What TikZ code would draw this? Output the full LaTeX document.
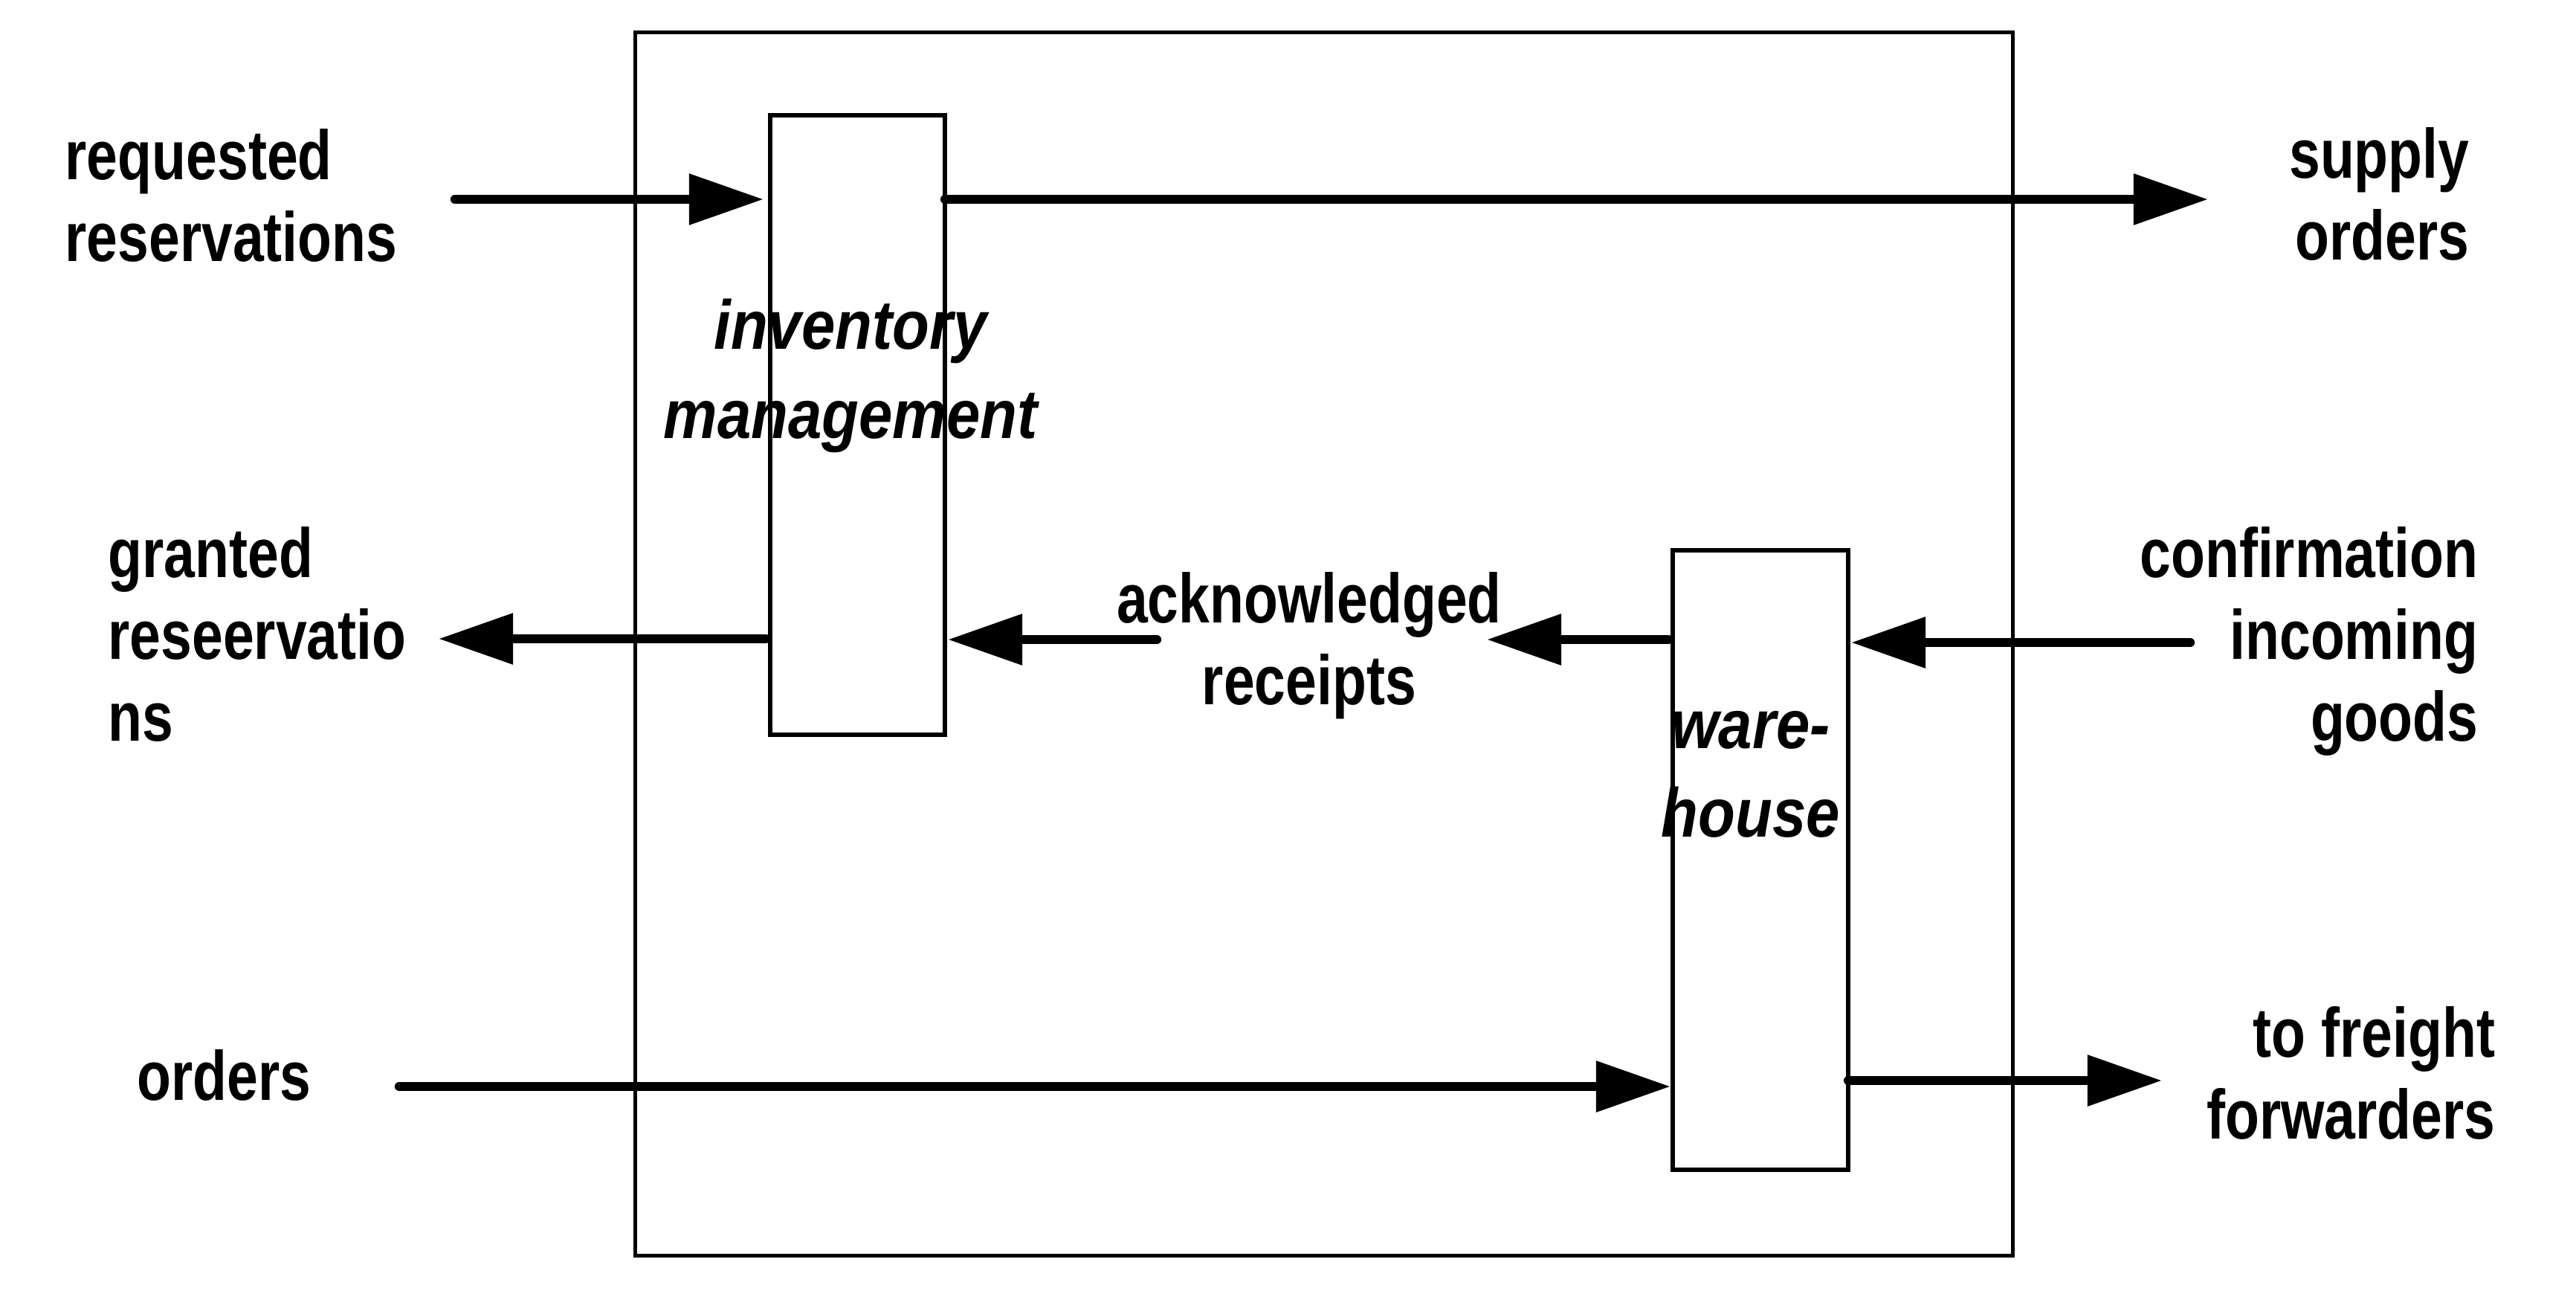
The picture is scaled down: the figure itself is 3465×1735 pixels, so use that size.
\documentclass[tikz,border=0pt]{standalone}
\usepackage{fontspec}
\newfontfamily\labfont{Liberation Sans}[FakeStretch=0.80]
\newfontfamily\boxfont{Liberation Sans}[FakeStretch=0.875]
\usetikzlibrary{arrows.meta}
\newcommand\ls{\rule[-0.21em]{0pt}{0.75em}}
\begin{document}
\begin{tikzpicture}[x=0.01cm,y=-0.01cm,
  blk/.style={draw, line width=1.6pt, inner sep=0pt, outer sep=0pt, fill=none},
  flow/.style={line width=3.5pt, line cap=round, -{Triangle[length=1cm,width=0.66cm]}},
  lab/.style={inner sep=0pt, font=\labfont\bfseries\fontsize{26.7pt}{31.3pt}\selectfont},
  ital/.style={inner sep=0pt, align=center, font=\boxfont\bfseries\itshape\fontsize{26.5pt}{34.1pt}\selectfont}]
\useasboundingbox (0,0) rectangle (3465,1735);
\fill[white] (0,0) rectangle (3465,1735);

% boxes
\node[blk, minimum width=18.52cm, minimum height=16.44cm] (sys) at (1781,866) {};
\node[blk, minimum width=2.35cm, minimum height=8.33cm] (inv) at (1153.5,571.5) {};
\node[blk, minimum width=2.36cm, minimum height=8.33cm] (wh) at (2368,1156.5) {};

% box labels
\node[ital, anchor=north] (invlab) at (1144,401) {\ls inventory\\\ls management};
\node[ital, anchor=north] (whlab) at (2355,955) {\ls ware-\\\ls house};

% outer labels
\node[lab, align=left, anchor=north west] (reqlab) at (87,173) {\ls requested\\\ls reservations};
\node[lab, align=right, anchor=north east] (suplab) at (3322,171) {\ls supply\\\ls orders};
\node[lab, align=left, anchor=north west] (grantlab) at (145,708) {\ls granted\\\ls reseervatio\\\ls ns};
\node[lab, align=center, anchor=north] (acklab) at (1761,769) {\ls acknowledged\\\ls receipts};
\node[lab, align=right, anchor=north east] (conflab) at (3334,708) {\ls confirmation\\\ls incoming\\\ls goods};
\node[lab, align=right, anchor=north east] (frlab) at (3357,1353) {\ls to freight\\\ls forwarders};
\node[lab, align=left, anchor=north west] (ordlab) at (184,1411) {\ls orders};

% connector free ends
\coordinate (reqs) at (612,268);
\coordinate (supe) at (2970,268);
\coordinate (grante) at (590,859);
\coordinate (acks) at (1556,860);
\coordinate (acke) at (2000,860);
\coordinate (confs) at (2946,864);
\coordinate (ords) at (537,1461);
\coordinate (fre) at (2908,1453);

% connectors
\draw[flow, shorten >=0.09cm] (reqs) -- (reqs -| inv.west);
\draw[flow] (supe -| inv.east) -- (supe);
\draw[flow, shorten <=0.06cm] (grante -| inv.west) -- (grante);
\draw[flow, shorten >=0.04cm] (acks) -- (acks -| inv.east);
\draw[flow, shorten <=0.06cm] (acke -| wh.west) -- (acke);
\draw[flow, shorten >=0.04cm] (confs) -- (confs -| wh.east);
\draw[flow, shorten >=0.03cm] (ords) -- (ords -| wh.west);
\draw[flow] (fre -| wh.east) -- (fre);
\end{tikzpicture}
\end{document}
